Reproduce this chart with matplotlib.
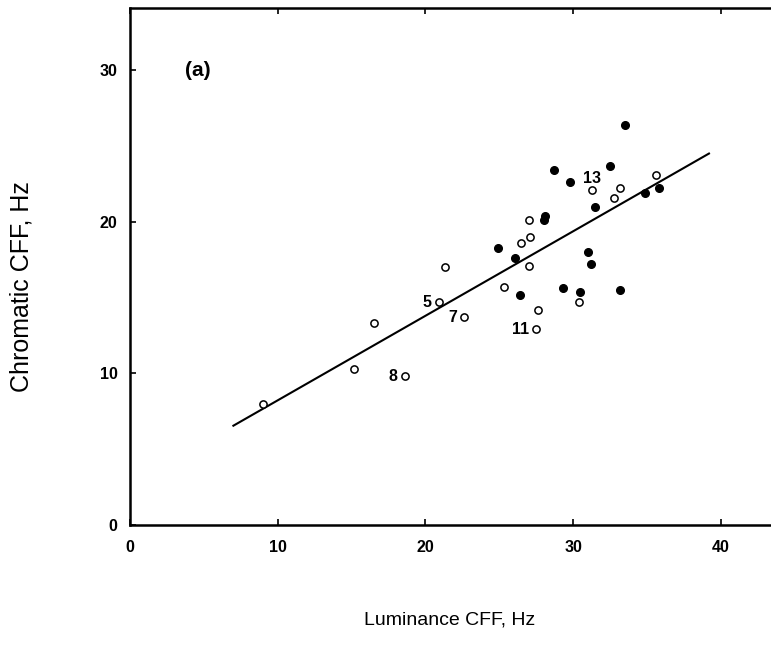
import numpy as np
import matplotlib
matplotlib.use("Agg")
import matplotlib.pyplot as plt

plt.rcParams['font.family'] = ['Liberation Sans', 'DejaVu Sans']

# open circles
lum_open = [9.0, 15.2, 16.5, 18.6, 20.9, 22.6, 21.3, 31.3, 33.2, 32.8, 35.6,
            27.0, 27.1, 26.5, 27.0, 25.3, 30.4, 27.6, 27.5]
chr_open = [8.0, 10.3, 13.3, 9.8, 14.7, 13.7, 17.0, 22.1, 22.2, 21.6, 23.1,
            20.1, 19.0, 18.6, 17.1, 15.7, 14.7, 14.2, 12.9]

# filled circles
lum_fill = [33.5, 28.7, 32.5, 29.8, 34.9, 35.8, 31.5, 28.1, 28.0, 24.9, 26.1,
            31.0, 31.2, 26.4, 29.3, 30.5, 33.2]
chr_fill = [26.4, 23.4, 23.7, 22.6, 21.9, 22.2, 21.0, 20.4, 20.1, 18.3, 17.6,
            18.0, 17.2, 15.2, 15.6, 15.4, 15.5]

# regression line
line_x = [7.0, 39.2]
line_y = [6.55, 24.5]

# numbered subjects
lbl_text = ["5", "7", "8", "11", "13"]
lbl_x = [20.9, 22.6, 18.6, 27.5, 31.3]
lbl_y = [14.7, 13.7, 9.8, 12.9, 22.1]

fig = plt.figure(figsize=(7.71, 6.48), dpi=100)
ax = fig.add_axes([130/771, 1-525/648, 1-130/771, (525-8)/648])

ax.plot(line_x, line_y, color='black', lw=1.5)
ax.plot(lum_open, chr_open, 'o', mfc='white', mec='black', mew=1.1, ms=5.2, ls='none')
ax.plot(lum_fill, chr_fill, 'o', mfc='black', mec='black', ms=5.5, ls='none')

for t, x, y in zip(lbl_text, lbl_x, lbl_y):
    if t == "13":
        ax.annotate(t, xy=(x, y), xytext=(0, 8.5), textcoords='offset points',
                    ha='center', va='center', fontsize=11.5, fontweight='bold')
    else:
        ax.annotate(t, xy=(x, y), xytext=(-5, 0), textcoords='offset points',
                    ha='right', va='center', fontsize=11.5, fontweight='bold')

ax.text(3.7, 30.0, "(a)", fontsize=15, fontweight='bold', va='center', ha='left')

ax.set_xlim(0, 43.4)
ax.set_ylim(0, 34.1)
ax.set_xticks([0, 10, 20, 30, 40])
ax.set_yticks([0, 10, 20, 30])
ax.tick_params(direction='in', length=4, width=1.2, labelsize=11.5, pad=9,
               top=True)
ax.tick_params(axis='x', pad=11)
for lab in ax.get_xticklabels() + ax.get_yticklabels():
    lab.set_fontweight('bold')

ax.spines['right'].set_visible(False)
for s in ['left', 'bottom', 'top']:
    ax.spines[s].set_linewidth(1.8)

fig.text(450/771, 1-620/648, "Luminance CFF, Hz", ha='center', va='center', fontsize=14)
fig.text(22/771, 1-287/648, "Chromatic CFF, Hz", ha='center', va='center',
         rotation=90, fontsize=18)

fig.savefig("out.png", dpi=100)
